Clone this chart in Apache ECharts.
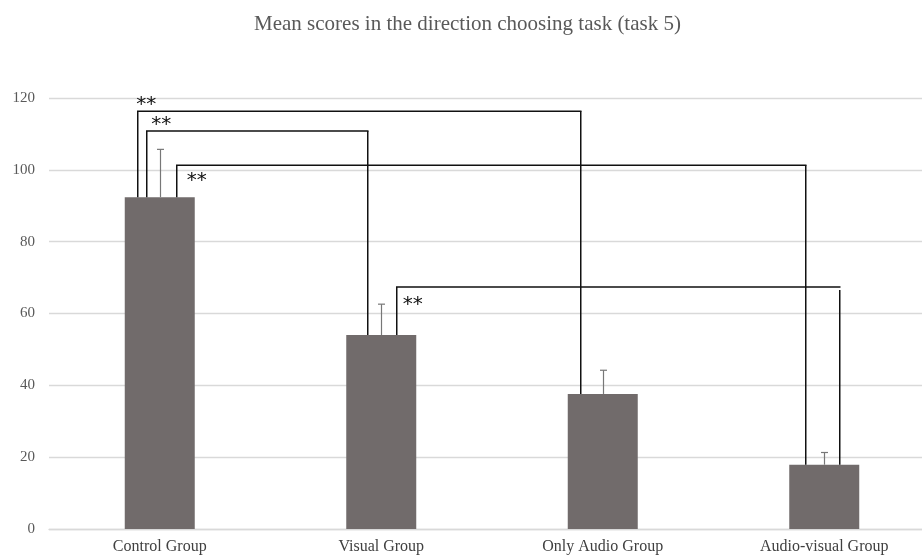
<!DOCTYPE html>
<html>
<head>
<meta charset="utf-8">
<script src="https://cdn.jsdelivr.net/npm/echarts@6/dist/echarts.min.js"></script>
<style>
  html, body { margin: 0; padding: 0; background: #ffffff; overflow: hidden; }
  #chart { width: 935px; height: 555px; }
</style>
</head>
<body>
<div id="chart"></div>
<script>
// Groups and their mean scores with error bar lengths
const groups = ['Control Group', 'Visual Group', 'Only Audio Group', 'Audio-visual Group'];
const meanScores = [92.4, 54.0, 37.6, 17.9];
const errorValues = [13.3, 8.6, 6.6, 3.4];
const yTicks = [0, 20, 40, 60, 80, 100, 120];

// Significance brackets: compared groups and the score level of each bracket
const bracketFrom = [0, 0, 0, 1];
const bracketTo = [2, 1, 3, 3];
const bracketHeight = [116.3, 110.8, 101.3, 67.4];
const bracketLabels = ['**', '**', '**', '**'];

// Leg offsets (px from bar centre) and star placement for each bracket
const bracketStyle = [
  { dxFrom: -22, dxTo: -22, labelDx: -1.5, labelDy: -6.5, toGap: 0 },
  { dxFrom: -13, dxTo: -13.5, labelDx: 4.5, labelDy: -6, toGap: 0 },
  { dxFrom: 17, dxTo: -18.5, labelDx: 10, labelDy: 16, toGap: 0 },
  { dxFrom: 15.5, dxTo: 15.5, labelDx: 6, labelDy: 17.5, toGap: 3 }
];

const serif = '"Liberation Serif", "Times New Roman", serif';
const chart = echarts.init(document.getElementById('chart'), null, { renderer: 'canvas' });

chart.setOption({
  animation: false,
  backgroundColor: '#ffffff',
  title: {
    text: 'Mean scores in the direction choosing task (task 5)',
    left: 'center',
    top: 9,
    textStyle: { fontFamily: serif, fontSize: 21, fontWeight: 'normal', color: '#595959' }
  },
  grid: { left: 49, right: 0, top: 98, bottom: 25.5, containLabel: false },
  xAxis: {
    type: 'category',
    data: groups,
    axisLine: { show: true, lineStyle: { color: '#d9d9d9', width: 1.3 } },
    axisTick: { show: false },
    axisLabel: { fontFamily: serif, fontSize: 16, color: '#404040', margin: 10, interval: 0 },
    splitLine: { show: false }
  },
  yAxis: {
    type: 'value',
    min: yTicks[0],
    max: yTicks[yTicks.length - 1],
    interval: yTicks[1] - yTicks[0],
    axisLine: { show: false },
    axisTick: { show: false },
    axisLabel: { fontFamily: serif, fontSize: 15, color: '#595959', margin: 14 },
    splitLine: { lineStyle: { color: '#d9d9d9', width: 1.3 } }
  },
  series: [
    {
      type: 'bar',
      data: meanScores,
      barWidth: 70,
      itemStyle: { color: '#716b6b' },
      z: 2
    },
    {
      // error bars with a short cap
      type: 'custom',
      data: groups.map((g, k) => [k, meanScores[k], errorValues[k]]),
      encode: { x: 0, y: 1 },
      z: 3,
      renderItem: function (params, api) {
        const k = api.value(0);
        const base = api.coord([k, api.value(1)]);
        const top = api.coord([k, api.value(1) + api.value(2)]);
        const x = Math.round(base[0]) + 0.5;
        const st = { stroke: '#777777', lineWidth: 1.2 };
        return {
          type: 'group',
          children: [
            { type: 'line', shape: { x1: x, y1: base[1], x2: x, y2: top[1] }, style: st },
            { type: 'line', shape: { x1: x - 3.5, y1: top[1], x2: x + 3.5, y2: top[1] }, style: st }
          ]
        };
      }
    },
    {
      // significance brackets
      type: 'custom',
      data: bracketFrom.map((f, k) => [f, bracketTo[k], bracketHeight[k]]),
      encode: { x: [0, 1], y: 2 },
      z: 4,
      renderItem: function (params, api) {
        const i = params.dataIndex;
        const st = bracketStyle[i];
        const from = api.value(0);
        const to = api.value(1);
        const h = api.value(2);
        const top = api.coord([from, h])[1];
        const x1 = api.coord([from, 0])[0] + st.dxFrom;
        const x2 = api.coord([to, 0])[0] + st.dxTo;
        const y1 = api.coord([from, meanScores[from]])[1];
        const y2 = api.coord([to, meanScores[to]])[1];
        const lineStyle = { stroke: '#111111', lineWidth: 1.5, fill: 'none' };
        return {
          type: 'group',
          children: [
            { type: 'polyline', shape: { points: [[x1, y1], [x1, top], [x2 + 0.75, top]] }, style: lineStyle },
            { type: 'line', shape: { x1: x2, y1: top + st.toGap, x2: x2, y2: y2 }, style: lineStyle },
            {
              type: 'text',
              x: x1 + st.labelDx,
              y: top + st.labelDy,
              style: {
                text: bracketLabels[i],
                fontFamily: '"DejaVu Sans", sans-serif',
                fontSize: 20,
                fill: '#111111',
                align: 'left',
                verticalAlign: 'middle'
              }
            }
          ]
        };
      }
    }
  ]
});
</script>
</body>
</html>
